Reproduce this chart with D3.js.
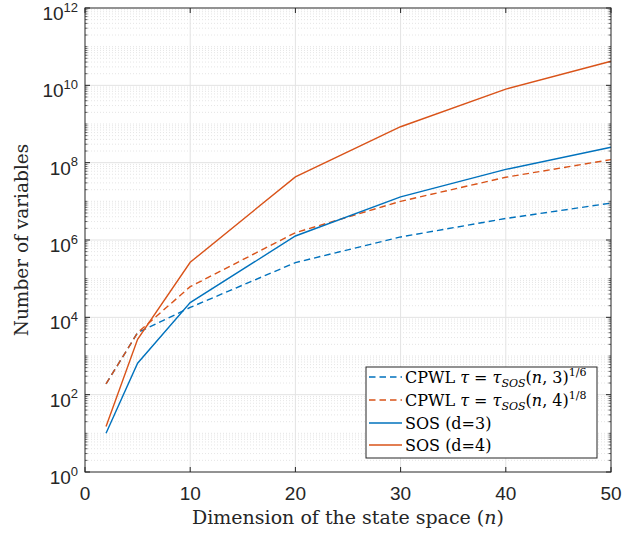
<!DOCTYPE html>
<html>
<head>
<meta charset="utf-8">
<script src="https://cdn.jsdelivr.net/npm/d3@7"></script>
<style>
  html, body { margin: 0; padding: 0; background: #fff; }
  svg { display: block; }
</style>
</head>
<body>
<svg id="chart" width="623" height="533"></svg>
<script>
// ---- data ----
const dims = [2, 5, 10, 20, 30, 40, 50];
const cpwlD3 = [190, 4000, 1.8e4, 2.6e5, 1.2e6, 3.6e6, 9e6];
const cpwlD4 = [190, 4000, 6.2e4, 1.55e6, 1.0e7, 4.2e7, 1.2e8];
const sosD3 = [10, 650, 2.4e4, 1.27e6, 1.3e7, 6.7e7, 2.5e8];
const sosD4 = [15, 2700, 2.65e5, 4.3e7, 8.5e8, 8e9, 4.2e10];
const xTicks = [0, 10, 20, 30, 40, 50];
const yTickExps = [0, 2, 4, 6, 8, 10, 12];

const series = [
  { values: cpwlD3, color: "#0072BD", dash: "6.5,4", label: "cpwl3" },
  { values: cpwlD4, color: "#D95319", dash: "6.5,4", label: "cpwl4" },
  { values: sosD3, color: "#0072BD", dash: null, label: "sos3" },
  { values: sosD4, color: "#D95319", dash: null, label: "sos4" }
];

const svg = d3.select("#chart");
const L = 85, R = 611, T = 8, B = 472;
const x = d3.scaleLinear().domain([0, 50]).range([L, R]);
const y = d3.scaleLog().domain([1, 1e12]).range([B, T]);
const axisColor = "#262626";

// grid
const grid = svg.append("g");
const minorVals = [];
for (let e = 0; e < 12; e++) {
  for (let m = 1; m <= 9; m++) {
    const v = m * Math.pow(10, e);
    if (m === 1 && e % 2 === 0) continue;
    minorVals.push(v);
  }
}
grid.selectAll("line.minor").data(minorVals).enter().append("line")
  .attr("x1", L).attr("x2", R)
  .attr("y1", d => y(d)).attr("y2", d => y(d))
  .attr("stroke", "#d4d4d4").attr("stroke-width", 0.6)
  .attr("stroke-dasharray", "1,2");
grid.selectAll("line.majy").data(yTickExps.slice(1, -1)).enter().append("line")
  .attr("x1", L).attr("x2", R)
  .attr("y1", d => y(Math.pow(10, d))).attr("y2", d => y(Math.pow(10, d)))
  .attr("stroke", "#e3e3e3").attr("stroke-width", 1);
grid.selectAll("line.majx").data(xTicks.slice(1, -1)).enter().append("line")
  .attr("y1", T).attr("y2", B)
  .attr("x1", d => x(d)).attr("x2", d => x(d))
  .attr("stroke", "#e3e3e3").attr("stroke-width", 1);

// lines
const line = d3.line().x((d, i) => x(dims[i])).y(d => y(d));
series.forEach(s => {
  svg.append("path")
    .attr("d", line(s.values))
    .attr("fill", "none")
    .attr("stroke", s.color)
    .attr("stroke-width", 1.4)
    .attr("stroke-dasharray", s.dash);
});

// axes box
svg.append("rect").attr("x", L).attr("y", T).attr("width", R - L).attr("height", B - T)
  .attr("fill", "none").attr("stroke", axisColor).attr("stroke-width", 1);

// ticks
const tk = svg.append("g").attr("stroke", axisColor).attr("stroke-width", 1);
xTicks.forEach(v => {
  tk.append("line").attr("x1", x(v)).attr("x2", x(v)).attr("y1", B).attr("y2", B - 5);
  tk.append("line").attr("x1", x(v)).attr("x2", x(v)).attr("y1", T).attr("y2", T + 5);
});
yTickExps.forEach(e => {
  const yy = y(Math.pow(10, e));
  tk.append("line").attr("x1", L).attr("x2", L + 5).attr("y1", yy).attr("y2", yy);
  tk.append("line").attr("x1", R).attr("x2", R - 5).attr("y1", yy).attr("y2", yy);
});
minorVals.forEach(v => {
  const yy = y(v);
  tk.append("line").attr("x1", L).attr("x2", L + 2.5).attr("y1", yy).attr("y2", yy).attr("stroke-width", 0.7);
  tk.append("line").attr("x1", R).attr("x2", R - 2.5).attr("y1", yy).attr("y2", yy).attr("stroke-width", 0.7);
});

// tick labels
const sans = "'Liberation Sans', Arial, sans-serif";
svg.append("g").selectAll("text").data(xTicks).enter().append("text")
  .attr("x", d => x(d)).attr("y", 500)
  .attr("text-anchor", "middle")
  .attr("font-family", sans).attr("font-size", 19).attr("fill", axisColor)
  .text(d => d);

const yl = svg.append("g");
yTickExps.forEach(e => {
  const yy = y(Math.pow(10, e));
  const t = yl.append("text")
    .attr("x", 78).attr("y", yy + 12)
    .attr("text-anchor", "end")
    .attr("font-family", sans).attr("fill", axisColor);
  t.append("tspan").attr("font-size", 19).text("10");
  t.append("tspan").attr("font-size", 13).attr("dy", -8.5).text(e);
});

// axis titles
const serif = "'DejaVu Serif', serif";
const xt = svg.append("text")
  .attr("x", (L + R) / 2).attr("y", 524)
  .attr("text-anchor", "middle")
  .attr("font-family", serif).attr("font-size", 19).attr("fill", axisColor);
xt.append("tspan").text("Dimension of the state space (");
xt.append("tspan").attr("font-style", "italic").text("n");
xt.append("tspan").text(")");

svg.append("text")
  .attr("transform", `translate(28, ${(T + B) / 2}) rotate(-90)`)
  .attr("text-anchor", "middle")
  .attr("font-family", serif).attr("font-size", 18.5).attr("fill", axisColor)
  .text("Number of variables");

// legend
const lg = svg.append("g");
const lx = 366, ly = 367, lw = 231, lh = 91;
lg.append("rect").attr("x", lx).attr("y", ly).attr("width", lw).attr("height", lh)
  .attr("fill", "#fff").attr("stroke", axisColor).attr("stroke-width", 1);
const rowY = [377, 400, 423, 445];
series.forEach((s, i) => {
  lg.append("line")
    .attr("x1", lx + 3).attr("x2", lx + 36)
    .attr("y1", rowY[i]).attr("y2", rowY[i])
    .attr("stroke", s.color).attr("stroke-width", 1.4)
    .attr("stroke-dasharray", s.dash);
});
function cpwlText(i, d, frac) {
  const t = lg.append("text").attr("x", lx + 39).attr("y", rowY[i] + 6)
    .attr("font-family", serif).attr("font-size", 16).attr("fill", "#000");
  t.append("tspan").text("CPWL ");
  t.append("tspan").attr("font-style", "italic").text("τ");
  t.append("tspan").text(" = ");
  t.append("tspan").attr("font-style", "italic").text("τ");
  t.append("tspan").attr("font-style", "italic").attr("font-size", 11).attr("dy", 4).text("SOS");
  t.append("tspan").attr("dy", -4).text("(");
  t.append("tspan").attr("font-style", "italic").text("n");
  t.append("tspan").text(", " + d + ")");
  t.append("tspan").attr("font-size", 11).attr("dy", -7).text(frac);
}
cpwlText(0, 3, "1/6");
cpwlText(1, 4, "1/8");
["SOS (d=3)", "SOS (d=4)"].forEach((s, k) => {
  lg.append("text").attr("x", lx + 39).attr("y", rowY[k + 2] + 6)
    .attr("font-family", serif).attr("font-size", 16).attr("fill", "#000")
    .text(s);
});
</script>
</body>
</html>
